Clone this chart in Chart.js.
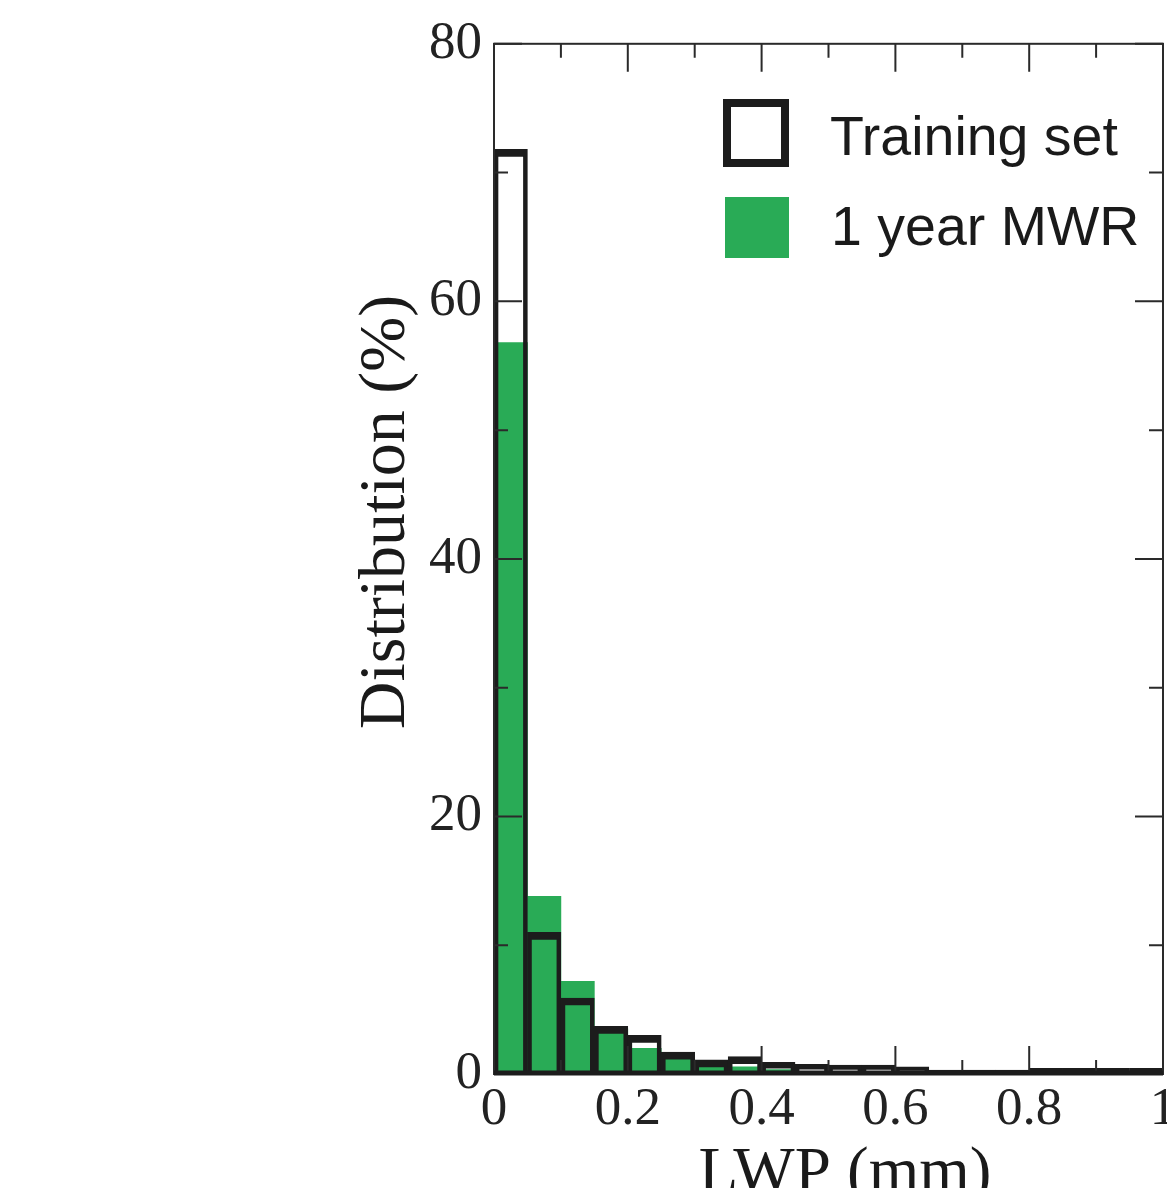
<!DOCTYPE html>
<html>
<head>
<meta charset="utf-8">
<script src="https://cdn.jsdelivr.net/npm/chart.js@4.4.1/dist/chart.umd.min.js"></script>
<style>
html, body { margin:0; padding:0; background:#fff; overflow:hidden; }
#wrap { position:relative; width:1230px; height:1240px; }
</style>
</head>
<body>
<div id="wrap"><canvas id="hist"></canvas></div>
<script>
// LWP bins (mm), 0.05 wide
var bin_centres  = [0.025, 0.075, 0.125, 0.175, 0.225, 0.275, 0.325, 0.375, 0.425, 0.475,
                    0.525, 0.575, 0.625, 0.675, 0.725, 0.775, 0.825, 0.875, 0.925, 0.975];
// distribution in %
var training_set = [71.8, 11.0, 5.9, 3.7, 3.0, 1.7, 1.1, 1.35, 0.9, 0.75,
                    0.7, 0.7, 0.55, 0.3, 0.3, 0.3, 0.45, 0.45, 0.45, 0.45];
var mwr_year     = [56.8, 13.8, 7.2, 3.5, 2.0, 1.15, 0.55, 0.55, 0.35, 0.2,
                    0.1, 0.1, 0.1, 0.1, 0.15, 0.15, 0.05, 0.05, 0.05, 0.05];
var series_names = ["Training set", "1 year MWR"];

var x_major = [0, 0.2, 0.4, 0.6, 0.8, 1];
var x_minor = [0.1, 0.3, 0.5, 0.7, 0.9];
var y_major = [0, 20, 40, 60, 80];
var y_minor = [10, 30, 50, 70];
var x_title = "LWP (mm)";
var y_title = "Distribution (%)";

var ink   = "#1c1c1c";
var green = "#29ab56";

function to_points(vals){
  var pts = [];
  for(var i=0;i<vals.length;i++){
    pts.push({x: bin_centres[i], y: vals[i]});
  }
  return pts;
}

// frame, inward ticks, titles and the legend box
var frame_plugin = {
  id: 'frame',
  afterDatasetsDraw: function(chart){
    var ctx = chart.ctx, a = chart.chartArea;
    var xs = chart.scales.x, ys = chart.scales.y;
    var major = 28, minor = 14;
    ctx.save();
    ctx.strokeStyle = "#2a2a2a";
    ctx.lineWidth = 2;
    ctx.strokeRect(a.left, a.top, a.right - a.left, a.bottom - a.top);
    ctx.beginPath();
    for(var i=0;i<x_major.length;i++){
      var px = xs.getPixelForValue(x_major[i]);
      ctx.moveTo(px, a.top); ctx.lineTo(px, a.top + major);
      ctx.moveTo(px, a.bottom); ctx.lineTo(px, a.bottom - major);
    }
    for(var i=0;i<x_minor.length;i++){
      var px = xs.getPixelForValue(x_minor[i]);
      ctx.moveTo(px, a.top); ctx.lineTo(px, a.top + minor);
      ctx.moveTo(px, a.bottom); ctx.lineTo(px, a.bottom - minor);
    }
    for(var i=0;i<y_major.length;i++){
      var py = ys.getPixelForValue(y_major[i]);
      ctx.moveTo(a.left, py); ctx.lineTo(a.left + major, py);
      ctx.moveTo(a.right, py); ctx.lineTo(a.right - major, py);
    }
    for(var i=0;i<y_minor.length;i++){
      var py = ys.getPixelForValue(y_minor[i]);
      ctx.moveTo(a.left, py); ctx.lineTo(a.left + minor, py);
      ctx.moveTo(a.right, py); ctx.lineTo(a.right - minor, py);
    }
    ctx.stroke();
    // heavy base line
    ctx.strokeStyle = ink;
    ctx.lineWidth = 5;
    ctx.beginPath();
    ctx.moveTo(a.left, a.bottom - 1); ctx.lineTo(a.right, a.bottom - 1);
    ctx.stroke();

    // axis titles
    ctx.fillStyle = "#1a1a1a";
    ctx.font = "65px 'Liberation Serif'";
    ctx.textAlign = "center";
    ctx.textBaseline = "alphabetic";
    ctx.fillText(x_title, 845, 1192);
    ctx.font = "66px 'Liberation Serif'";
    ctx.translate(404, 512);
    ctx.rotate(-Math.PI/2);
    ctx.fillText(y_title, 0, 0);
    ctx.restore();

    // legend
    ctx.save();
    ctx.strokeStyle = ink;
    ctx.lineWidth = 8;
    ctx.strokeRect(727, 103, 58, 60);
    ctx.fillStyle = green;
    ctx.fillRect(725, 197, 64, 61);
    ctx.fillStyle = "#1a1a1a";
    ctx.font = "55.5px 'Liberation Sans'";
    ctx.textAlign = "left";
    ctx.textBaseline = "alphabetic";
    ctx.fillText(series_names[0], 830, 155);
    ctx.fillText(series_names[1], 831, 245);
    ctx.restore();
  }
};

var hist_ctx = document.getElementById("hist").getContext("2d");
var hist_chart = new Chart(hist_ctx, {
  type: 'bar',
  data: {
    datasets: [
      {
        label: series_names[0],
        data: to_points(training_set),
        backgroundColor: "rgba(0,0,0,0)",
        borderColor: ink,
        borderWidth: {top: 7, left: 4, right: 4, bottom: 0},
        borderSkipped: 'start',
        grouped: false,
        barPercentage: 1,
        categoryPercentage: 1
      },
      {
        label: series_names[1],
        data: to_points(mwr_year),
        backgroundColor: green,
        borderWidth: 0,
        grouped: false,
        barPercentage: 1,
        categoryPercentage: 1
      }
    ]
  },
  options: {
    responsive: true,
    maintainAspectRatio: false,
    animation: false,
    layout: { padding: {left: 0, top: 43, right: 67, bottom: 0} },
    plugins: { legend: {display: false}, tooltip: {enabled: false} },
    scales: {
      x: {
        type: 'linear',
        min: 0, max: 1,
        offset: false,
        grid: {display: false, drawTicks: false},
        border: {display: false},
        ticks: {
          stepSize: 0.2,
          padding: 4,
          color: "#222",
          font: {family: "'Liberation Serif'", size: 53},
          callback: function(v){ return String(Math.round(v * 10) / 10); }
        },
        afterFit: function(s){ s.height = 166; }
      },
      y: {
        min: 0, max: 80,
        grid: {display: false, drawTicks: false},
        border: {display: false},
        ticks: {
          stepSize: 20,
          padding: 12,
          color: "#222",
          font: {family: "'Liberation Serif'", size: 53}
        },
        afterFit: function(s){ s.width = 494; }
      }
    }
  },
  plugins: [frame_plugin]
});
</script>
</body>
</html>
